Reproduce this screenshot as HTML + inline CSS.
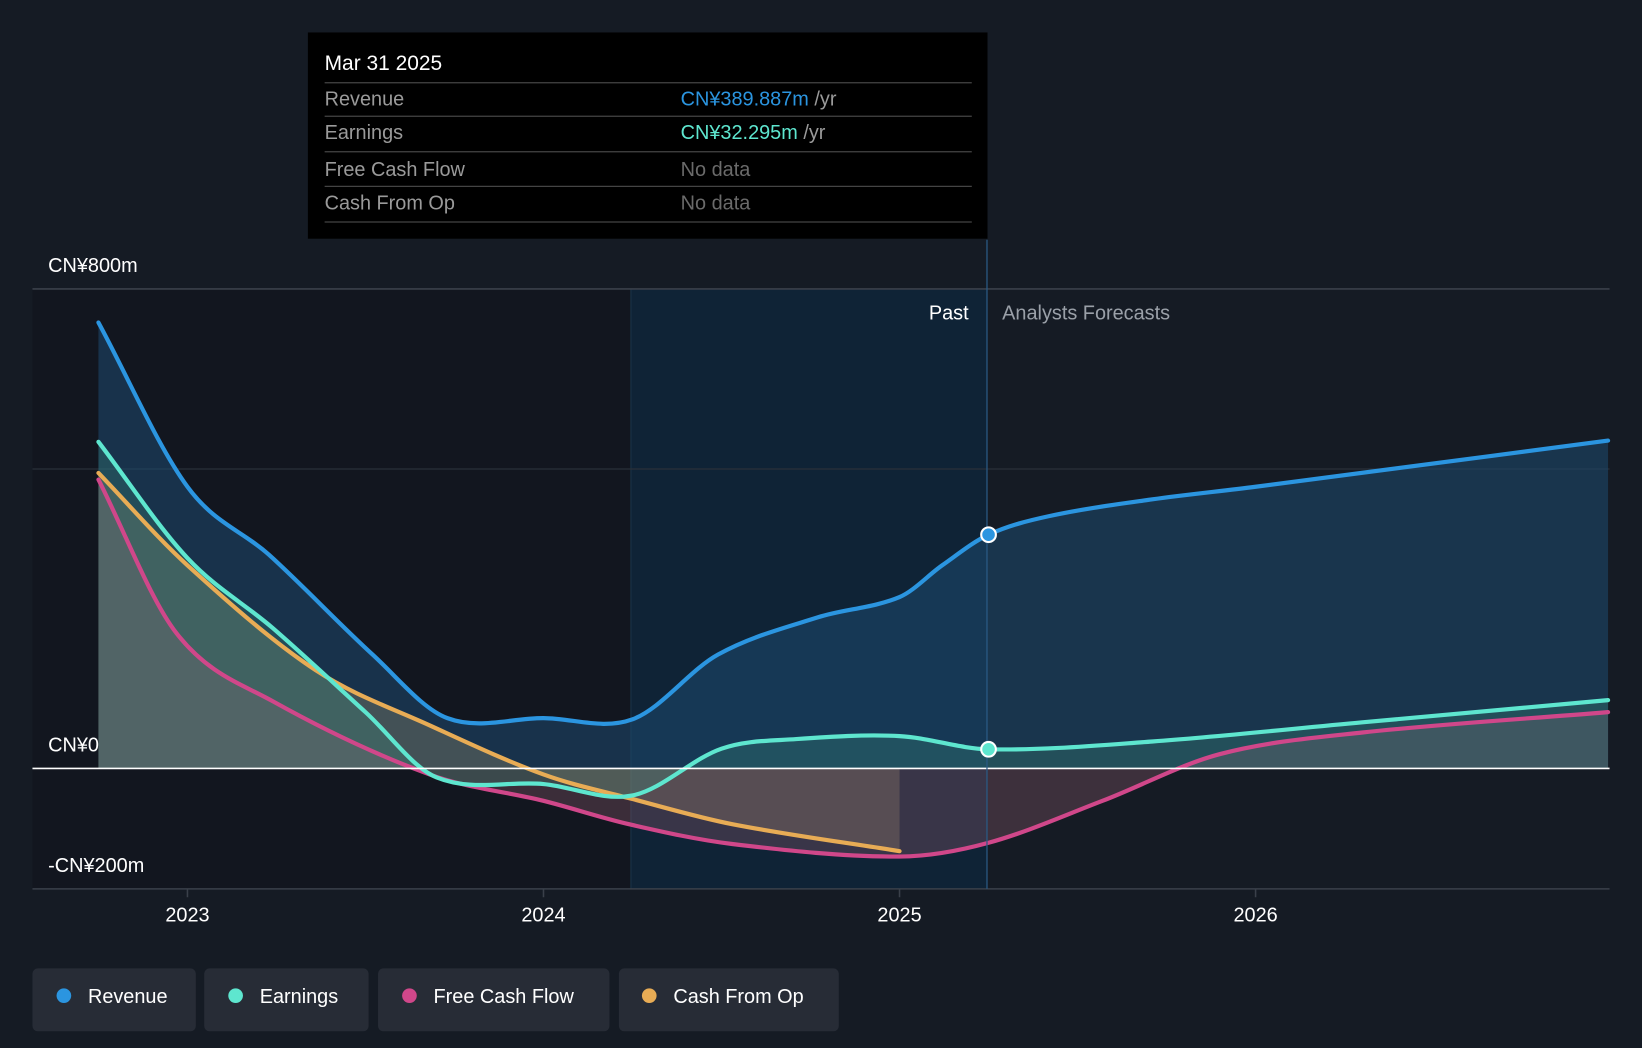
<!DOCTYPE html>
<html><head><meta charset="utf-8">
<style>
html,body{margin:0;padding:0;background:#151b24;}
svg{display:block;font-family:"Liberation Sans","Noto Sans CJK SC",sans-serif;}
</style></head>
<body>
<svg id="chart" width="1642" height="1048" viewBox="0 0 1568 1001" preserveAspectRatio="none" xmlns="http://www.w3.org/2000/svg">
  <rect x="0" y="0" width="1568" height="1001" fill="#151b24"/>
  <rect x="31" y="276" width="571" height="573" fill="#12161f"/>
  <rect x="602" y="276" width="340" height="573" fill="#0f2336"/>
  <line x1="602.5" y1="276" x2="602.5" y2="849" stroke="#1c3348" stroke-width="1"/>
  <line x1="31" y1="276" x2="1537" y2="276" stroke="#3a404a" stroke-width="1.5"/>
  <line x1="31" y1="448" x2="1537" y2="448" stroke="#2a3039" stroke-width="1.2"/>
  <g id="marks"></g>
  <line x1="31" y1="734" x2="1537" y2="734" stroke="#ffffff" stroke-width="1.5"/>
  <line x1="31" y1="849" x2="1537" y2="849" stroke="#3a404a" stroke-width="1.5"/>
  <line x1="942.5" y1="229" x2="942.5" y2="849" stroke="#2a5a85" stroke-width="1.2"/>
  <g id="dots"></g>
  <text x="46" y="260" fill="#fff" font-size="19">CN¥800m</text>
  <text x="46" y="718" fill="#fff" font-size="19">CN¥0</text>
  <text x="46" y="833" fill="#fff" font-size="19">-CN¥200m</text>
  <text x="925" y="305" fill="#fff" font-size="19" text-anchor="end">Past</text>
  <text x="957" y="305" fill="#9aa0a8" font-size="19">Analysts Forecasts</text>
  <g id="xticks"></g>

  <g>
    <rect x="294" y="31" width="649" height="197" fill="#000"/>
    <text x="310" y="67" fill="#fff" font-size="20">Mar 31 2025</text>
    <line x1="310" y1="79" x2="928" y2="79" stroke="#444" stroke-width="1.2"/>
    <text x="310" y="101" fill="#9a9a9a" font-size="19">Revenue</text>
    <text x="650" y="101" font-size="19"><tspan fill="#2b95e0">CN¥389.887m</tspan><tspan fill="#9a9a9a"> /yr</tspan></text>
    <line x1="310" y1="111" x2="928" y2="111" stroke="#444" stroke-width="1.2"/>
    <text x="310" y="133" fill="#9a9a9a" font-size="19">Earnings</text>
    <text x="650" y="133" font-size="19"><tspan fill="#5ee6cf">CN¥32.295m</tspan><tspan fill="#9a9a9a"> /yr</tspan></text>
    <line x1="310" y1="145" x2="928" y2="145" stroke="#444" stroke-width="1.2"/>
    <text x="310" y="168" fill="#9a9a9a" font-size="19">Free Cash Flow</text>
    <text x="650" y="168" fill="#6a6a6a" font-size="19">No data</text>
    <line x1="310" y1="178" x2="928" y2="178" stroke="#444" stroke-width="1.2"/>
    <text x="310" y="200" fill="#9a9a9a" font-size="19">Cash From Op</text>
    <text x="650" y="200" fill="#6a6a6a" font-size="19">No data</text>
    <line x1="310" y1="212" x2="928" y2="212" stroke="#444" stroke-width="1.2"/>
  </g>

  <g>
    <g><rect x="31" y="925" width="156" height="60" rx="5" fill="#272c36"/><circle cx="61" cy="951" r="7" fill="#2b95e0"/><text x="84" y="958" fill="#fff" font-size="19">Revenue</text></g>
    <g><rect x="195" y="925" width="157" height="60" rx="5" fill="#272c36"/><circle cx="225" cy="951" r="7" fill="#5ee6cf"/><text x="248" y="958" fill="#fff" font-size="19">Earnings</text></g>
    <g><rect x="361" y="925" width="221" height="60" rx="5" fill="#272c36"/><circle cx="391" cy="951" r="7" fill="#d0478a"/><text x="414" y="958" fill="#fff" font-size="19">Free Cash Flow</text></g>
    <g><rect x="591" y="925" width="210" height="60" rx="5" fill="#272c36"/><circle cx="620" cy="951" r="7" fill="#e8ac55"/><text x="643" y="958" fill="#fff" font-size="19">Cash From Op</text></g>
  </g>
</svg>
<script>
const xTickYears = [2023, 2024, 2025, 2026];
const revenueT = [2022.75, 2023.0, 2023.23, 2023.52, 2023.73, 2024.0, 2024.25, 2024.49, 2024.77, 2025.0, 2025.12, 2025.25, 2025.42, 2025.71, 2026.0, 2026.99];
const revenueV = [744, 470, 356, 190, 84, 84, 82, 190, 252, 286, 339, 390, 421, 449, 470, 547];
const earningsT = [2022.75, 2023.0, 2023.24, 2023.5, 2023.7, 2024.0, 2024.25, 2024.5, 2024.71, 2025.0, 2025.25, 2025.71, 2026.3, 2026.99];
const earningsV = [545, 351, 234, 94, -15, -26, -45, 33, 49, 54, 32, 45, 77, 114];
const fcfT = [2022.75, 2022.97, 2023.24, 2023.68, 2024.0, 2024.24, 2024.53, 2025.0, 2025.25, 2025.57, 2025.9, 2026.3, 2026.99];
const fcfV = [482, 225, 112, -10, -54, -93, -126, -147, -124, -54, 24, 60, 94];
const cashOpT = [2022.75, 2023.0, 2023.36, 2023.68, 2024.0, 2024.25, 2024.53, 2025.0];
const cashOpV = [493, 339, 164, 72, -10, -51, -93, -138];

const xS = t => 179 + (t - 2023) * 340;
const yS = v => 734 - v * 0.5725;
const NS = 'http://www.w3.org/2000/svg';

function smooth(pts){
  const n = pts.length;
  const m = pts.map((p,i)=>{
    const a = pts[Math.max(0,i-1)], b = pts[Math.min(n-1,i+1)];
    return (b[1]-a[1])/(b[0]-a[0]);
  });
  let d = 'M' + pts[0][0] + ',' + pts[0][1];
  for (let i = 0; i < n - 1; i++){
    const p1 = pts[i], p2 = pts[i+1], dx = p2[0]-p1[0];
    d += ' C' + (p1[0]+dx/3) + ',' + (p1[1]+m[i]*dx/3) + ' ' + (p2[0]-dx/3) + ',' + (p2[1]-m[i+1]*dx/3) + ' ' + p2[0] + ',' + p2[1];
  }
  return d;
}
const marks = document.getElementById('marks');
function series(name, T, V, fill, fillOp){
  const pts = T.map((t,i)=>[xS(t), yS(V[i])]);
  const line = smooth(pts);
  const area = document.createElementNS(NS,'path');
  area.setAttribute('d', line + ' L' + pts[pts.length-1][0] + ',' + yS(0) + ' L' + pts[0][0] + ',' + yS(0) + ' Z');
  area.setAttribute('fill', fill);
  area.setAttribute('fill-opacity', fillOp);
  
  
  marks.appendChild(area);
  return line;
}
const lines = [];
lines.push(['revenue', series('revenue', revenueT, revenueV, '#1d4a70', 0.55), '#2b95e0']);
lines.push(['cash-from-op', series('cash-from-op', cashOpT, cashOpV, '#a89a70', 0.3), '#e8ac55']);
lines.push(['free-cash-flow', series('free-cash-flow', fcfT, fcfV, '#8a5a6a', 0.35), '#d0478a']);
lines.push(['earnings', series('earnings', earningsT, earningsV, '#3a8a7a', 0.3), '#5ee6cf']);
lines.forEach(l=>{
  const p = document.createElementNS(NS,'path');
  p.setAttribute('d', l[1]);
  p.setAttribute('fill','none');
  p.setAttribute('stroke', l[2]);
  p.setAttribute('stroke-width','4');
  p.setAttribute('stroke-linecap','round');
  
  
  marks.appendChild(p);
});
const dots = document.getElementById('dots');
[[revenueT, revenueV, '#2b95e0', 'revenue-marker'], [earningsT, earningsV, '#5ee6cf', 'earnings-marker']].forEach(s=>{
  const i = s[0].indexOf(2025.25);
  const c = document.createElementNS(NS,'circle');
  c.setAttribute('cx', xS(s[0][i])); c.setAttribute('cy', yS(s[1][i])); c.setAttribute('r', 7);
  c.setAttribute('fill', s[2]); c.setAttribute('stroke', '#fff'); c.setAttribute('stroke-width', 2);
  
  
  dots.appendChild(c);
});
const xt = document.getElementById('xticks');
xTickYears.forEach(yr=>{
  const l = document.createElementNS(NS,'line');
  l.setAttribute('x1', xS(yr)); l.setAttribute('x2', xS(yr)); l.setAttribute('y1', 849); l.setAttribute('y2', 857);
  l.setAttribute('stroke', '#3a404a'); l.setAttribute('stroke-width', 1.5);
  
  
  xt.appendChild(l);
  const t = document.createElementNS(NS,'text');
  t.setAttribute('x', xS(yr)); t.setAttribute('y', 880); t.setAttribute('fill', '#fff');
  t.setAttribute('font-size', 19); t.setAttribute('text-anchor', 'middle');
  t.textContent = yr;
  
  
  xt.appendChild(t);
});
</script>
</body></html>
